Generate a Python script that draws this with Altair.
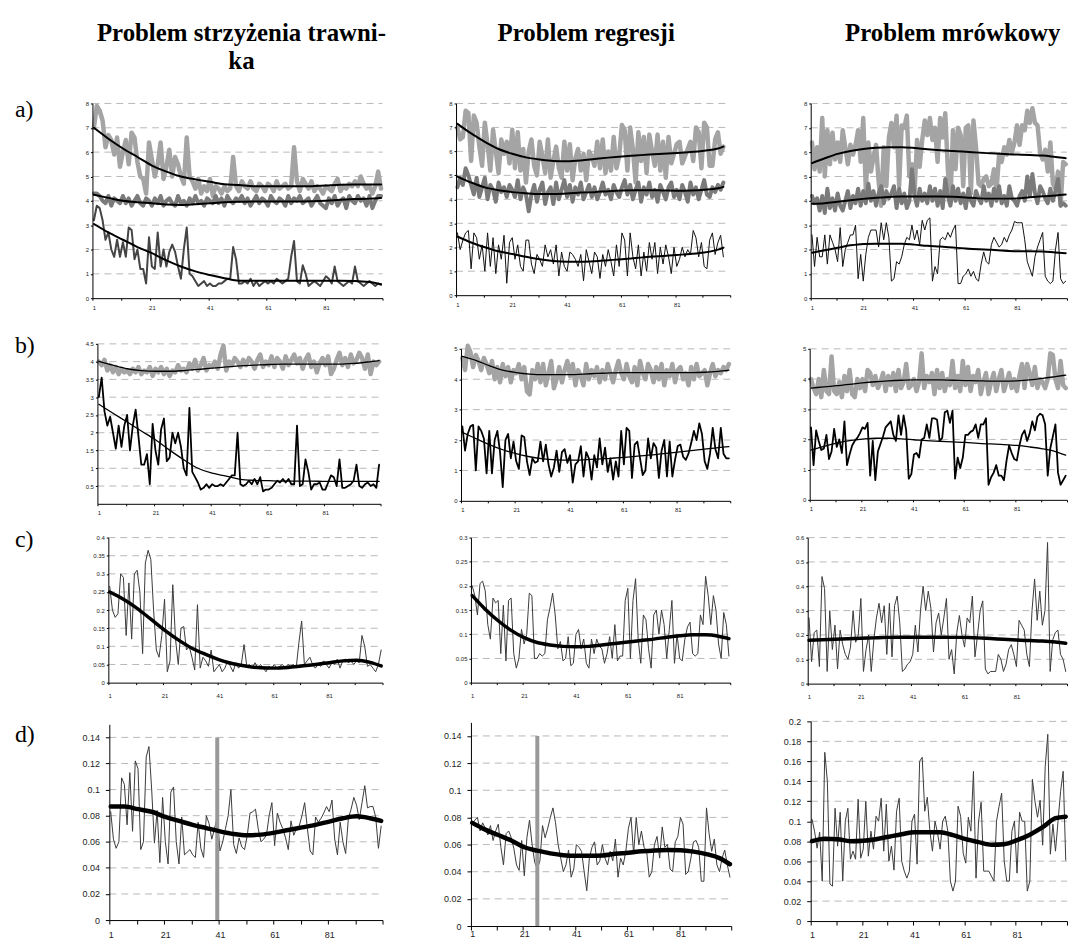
import altair as alt
import pandas as pd

W, H = 1067, 930

TITLES = ["Problem strzyżenia trawni-", "ka", "Problem regresji", "Problem mrówkowy"]
ROW_LABELS = ["a)", "b)", "c)", "d)"]

TX = [1, 6, 11, 16, 21, 26, 31, 36, 41, 46, 51, 56, 61, 66, 71, 76, 81, 86, 91, 96, 100]
TX98 = [1, 6, 11, 16, 21, 26, 31, 36, 41, 46, 51, 56, 61, 66, 71, 76, 81, 86, 91, 96, 98]
X_LABELS = [1, 21, 41, 61, 81]
X_TICKS = [0.5, 10.5, 20.5, 30.5, 40.5, 50.5, 60.5, 70.5, 80.5, 90.5, 100.5]

Y_A = [0, 1, 2, 3, 4, 5, 6, 7, 8]
Y_BL = [0.5, 1, 1.5, 2, 2.5, 3, 3.5, 4, 4.5]
Y_B = [0, 1, 2, 3, 4, 5]
Y_CL = [0, 0.05, 0.1, 0.15, 0.2, 0.25, 0.3, 0.35, 0.4]
Y_CM = [0, 0.05, 0.1, 0.15, 0.2, 0.25, 0.3]
Y_CR = [0, 0.1, 0.2, 0.3, 0.4, 0.5, 0.6]
Y_D = [0, 0.02, 0.04, 0.06, 0.08, 0.1, 0.12, 0.14]
Y_DR = [0, 0.02, 0.04, 0.06, 0.08, 0.1, 0.12, 0.14, 0.16, 0.18, 0.2]

CUT_DL = 40
CUT_DM = 26
CUT_TOP = 0.14

# ---------- row a ----------
AL_TOP = [7.0, 7.9, 7.7, 7.3, 6.2, 6.7, 6.5, 5.9, 6.6, 5.4,
          6.0, 6.5, 5.5, 6.8, 6.6, 5.6, 5.0, 4.9, 4.3, 6.4,
          5.7, 5.0, 5.5, 6.4, 4.9, 5.4, 6.1, 5.0, 5.8, 5.5,
          5.0, 4.7, 6.6, 5.0, 4.8, 4.5, 4.9, 4.3, 4.6, 4.4,
          4.9, 4.2, 4.6, 4.5, 4.3, 4.6, 4.4, 4.5, 5.8, 4.6,
          4.4, 4.8, 4.6, 4.5, 4.8, 4.5, 4.4, 4.7, 4.6, 4.4,
          4.7, 4.6, 4.4, 4.8, 4.5, 4.6, 4.7, 4.5, 4.6, 6.2,
          4.8, 4.4, 4.9, 4.7, 4.5, 4.8, 4.4, 4.6, 4.5, 4.3,
          4.6, 4.5, 4.4, 4.7, 4.9, 4.4, 4.6, 4.5, 4.7, 4.6,
          4.8, 4.6, 5.0, 4.7, 4.5, 4.6, 4.3, 4.6, 5.2, 4.5]
AL_MID = [4.3, 4.3, 4.2, 4.0, 3.9, 4.2, 3.8, 4.1, 4.0, 3.9,
          4.2, 3.9, 4.1, 3.8, 4.0, 4.2, 3.9, 3.8, 4.1, 4.0,
          3.8, 4.1, 3.9, 4.2, 3.8, 4.0, 4.1, 3.9, 3.8, 4.2,
          3.9, 4.0, 3.8, 4.1, 3.9, 4.2, 3.9, 4.0, 3.8, 4.1,
          4.0, 3.9, 4.2, 3.9, 4.1, 3.8, 4.2, 4.0, 3.9, 4.1,
          4.0, 4.2, 3.9, 4.1, 3.8, 4.0, 4.2, 3.9, 4.1, 4.0,
          3.8, 4.2, 4.0, 3.9, 4.1, 4.0, 3.8, 4.2, 3.9, 4.1,
          4.0, 4.2, 3.9, 4.0, 4.1, 3.8, 4.0, 4.2, 3.9, 3.8,
          3.7, 4.1, 3.9, 4.2, 3.8, 4.0, 4.1, 3.7, 4.2, 4.0,
          3.9, 4.2, 4.0, 4.1, 3.8, 4.2, 3.7, 4.0, 4.2, 4.2]
AL_BOT = [3.2, 3.8, 3.7, 3.2, 2.4, 2.7, 2.0, 1.7, 2.4, 1.7,
          2.3, 1.7, 2.9, 2.8, 1.6, 2.0, 1.2, 1.2, 0.6, 2.5,
          1.3, 1.2, 2.7, 1.3, 2.0, 1.3, 1.9, 2.2, 1.9, 1.3,
          0.8, 2.0, 2.9, 1.0, 0.9, 0.7, 0.5, 0.6, 0.7, 0.5,
          0.6, 0.5, 0.5, 0.6, 0.6, 0.7, 0.8, 0.8, 2.1, 1.6,
          0.6, 0.6, 0.7, 0.6, 0.8, 0.5, 0.7, 0.5, 0.6, 0.7,
          0.6, 0.7, 0.6, 0.8, 0.7, 0.6, 0.7, 0.8, 1.7, 2.35,
          0.7, 0.6, 1.35, 1.0, 0.5, 0.6, 0.7, 0.6, 0.5, 0.7,
          0.9, 0.8, 0.6, 1.3, 0.7, 0.6, 0.5, 0.6, 0.7, 0.6,
          1.3, 0.7, 0.6, 0.5, 0.6, 0.7, 0.6, 0.5, 0.6, 0.55]
AL_TOP_T = [7.0, 6.55, 6.15, 5.8, 5.45, 5.2, 5.0, 4.88, 4.78, 4.68, 4.65, 4.6, 4.6, 4.6, 4.6, 4.6, 4.63, 4.66, 4.67, 4.67, 4.67]
AL_MID_T = [4.25, 4.12, 4.0, 3.94, 3.9, 3.85, 3.83, 3.86, 3.9, 3.94, 3.96, 3.97, 3.97, 3.97, 3.97, 3.98, 4.0, 4.04, 4.07, 4.09, 4.12]
AL_BOT_T = [3.05, 2.7, 2.4, 2.1, 1.85, 1.55, 1.3, 1.1, 0.95, 0.82, 0.72, 0.72, 0.72, 0.72, 0.72, 0.72, 0.72, 0.72, 0.71, 0.66, 0.57]

AM_TOP = [7.0, 6.5, 6.6, 7.7, 7.6, 5.6, 7.5, 7.2, 6.2, 5.4,
          7.2, 6.3, 5.2, 6.9, 6.0, 5.1, 6.5, 5.9, 6.4, 5.5,
          6.9, 5.3, 6.8, 5.2, 6.1, 4.7, 6.0, 6.5, 5.4, 5.0,
          6.4, 5.8, 5.1, 6.5, 4.9, 5.6, 6.2, 5.3, 4.9, 6.4,
          5.2, 6.3, 4.8, 5.7, 6.1, 5.2, 5.9, 4.8, 6.0, 5.8,
          5.4, 6.4, 5.3, 6.5, 5.1, 6.0, 5.2, 6.6, 5.3, 5.8,
          7.1, 6.9, 5.2, 7.0, 6.1, 4.7, 6.8, 5.6, 6.6, 5.1,
          6.7, 6.0, 5.4, 6.7, 5.2, 6.4, 4.9, 6.6, 5.5, 5.9,
          6.3, 6.4, 5.5, 5.8, 6.1, 6.4, 5.6, 7.0, 6.8, 5.3,
          7.2, 7.0, 5.4, 5.4, 6.5, 6.8, 5.9, 6.2]
AM_MID = [4.5, 4.9, 4.6, 5.3, 5.0, 4.6, 4.2, 4.9, 4.1, 4.5,
          4.9, 4.0, 4.6, 4.4, 3.9, 4.7, 4.3, 4.5, 4.1, 4.6,
          4.4, 4.1, 4.8, 4.0, 4.5, 4.2, 3.5, 4.2, 4.6, 3.9,
          4.4, 4.7, 3.8, 4.3, 4.5, 3.8, 4.7, 4.0, 4.4, 4.8,
          4.1, 4.6, 3.9, 4.5, 4.2, 4.7, 4.0, 4.3, 4.6, 4.1,
          4.5, 4.0, 4.3, 4.7, 4.2, 4.4, 4.0, 4.6, 4.3, 4.1,
          4.5, 4.8, 4.2, 4.6, 4.0, 4.4, 4.7, 3.9, 4.5, 4.2,
          4.7, 4.1, 4.4, 3.9, 4.6, 4.3, 4.0, 4.5, 4.7, 4.1,
          4.4, 4.0, 4.6, 4.3, 3.9, 4.7, 4.2, 4.5, 4.0, 4.4,
          4.8, 4.2, 4.1, 4.5, 4.3, 4.6, 4.4, 4.7]
AM_BOT = [2.6, 1.9, 2.3, 2.6, 2.7, 1.1, 2.6, 2.4, 1.5, 2.1,
          1.0, 2.6, 1.2, 2.4, 0.9, 2.1, 1.5, 2.5, 0.5, 2.2,
          2.4, 1.5, 2.1, 1.2, 1.0, 2.3, 2.3, 1.3, 0.9, 1.7,
          1.5, 1.2, 2.1, 1.6, 1.9, 1.3, 2.1, 0.8, 1.8, 1.2,
          1.0, 1.8, 1.7, 1.5, 1.2, 1.7, 0.6, 1.9, 1.4, 0.9,
          1.8, 1.6, 0.7, 1.7, 1.2, 1.9, 1.4, 0.8, 2.1, 1.2,
          2.6, 2.3, 0.8, 2.6, 1.6, 1.1, 2.1, 0.8, 1.8, 1.0,
          2.2, 1.5, 2.2, 0.9, 2.0, 1.3, 2.1, 1.6, 0.9, 2.0,
          1.2, 1.5, 2.0, 1.6, 1.9, 1.7, 2.7, 2.4, 1.6, 2.2,
          1.2, 1.1, 2.3, 2.6, 1.7, 2.2, 2.5, 1.6]
AM_TOP_T = [7.15, 6.75, 6.4, 6.1, 5.9, 5.75, 5.66, 5.6, 5.59, 5.62, 5.68, 5.74, 5.79, 5.83, 5.87, 5.9, 5.93, 5.97, 6.03, 6.12, 6.2]
AM_MID_T = [4.95, 4.7, 4.5, 4.38, 4.3, 4.25, 4.22, 4.22, 4.24, 4.28, 4.3, 4.34, 4.37, 4.38, 4.38, 4.37, 4.36, 4.37, 4.4, 4.46, 4.52]
AM_BOT_T = [2.45, 2.2, 2.0, 1.83, 1.72, 1.6, 1.5, 1.43, 1.4, 1.4, 1.42, 1.46, 1.5, 1.55, 1.6, 1.64, 1.68, 1.72, 1.78, 1.9, 1.98]

AR_TOP = [6.4, 5.3, 6.2, 5.2, 7.4, 5.0, 6.9, 5.5, 6.8, 5.7,
          6.4, 5.6, 6.9, 6.2, 5.5, 6.3, 5.9, 6.3, 6.9, 5.6,
          7.4, 4.5, 6.4, 5.2, 5.8, 6.3, 4.8, 3.8, 6.2, 4.6,
          6.6, 7.2, 6.2, 7.5, 4.6, 7.1, 7.0, 7.5, 5.0, 5.5,
          4.3, 6.5, 5.4, 6.5, 7.3, 6.7, 7.4, 6.5, 7.0, 5.6,
          7.4, 6.6, 7.6, 5.3, 3.9, 6.9, 5.3, 7.0, 6.7, 4.6,
          7.0, 7.1, 4.3, 7.3, 6.2, 4.7, 4.6, 4.9, 5.0, 4.6,
          4.7, 5.3, 4.4, 5.9, 5.6, 6.2, 5.9, 6.5, 6.0, 6.4,
          7.1, 6.3, 7.1, 6.9, 7.7, 7.2, 7.8, 7.2, 7.1, 6.0,
          5.7, 6.1, 5.2, 6.4, 4.7, 4.5, 5.2, 3.8, 5.6, 5.5]
AR_MID = [4.2, 3.9, 4.1, 3.6, 4.2, 3.5, 4.5, 3.7, 4.1, 3.6,
          4.3, 3.8, 3.6, 4.0, 4.4, 3.7, 4.2, 3.9, 4.5, 3.8,
          4.4, 3.9, 4.7, 4.0, 4.4, 3.8, 4.3, 4.6, 3.9, 4.4,
          4.1, 4.3, 4.6, 3.7, 4.5, 3.9, 4.3, 3.7, 4.0, 5.3,
          4.2, 3.8, 4.5, 4.0, 4.3, 3.9, 4.6, 4.0, 4.5, 3.8,
          4.4, 3.7, 4.9, 4.2, 3.8, 4.6, 4.0, 4.5, 3.9, 4.3,
          3.7, 4.5, 4.0, 3.8, 4.4, 4.1, 3.9, 4.6, 4.0, 4.3,
          3.8, 4.5, 4.0, 4.6, 3.9, 4.2, 3.8, 4.6, 4.1, 4.0,
          3.8, 4.2, 4.4, 4.0, 5.0, 4.2, 5.1, 4.3, 3.9, 4.6,
          4.4, 4.1, 3.9, 4.5, 4.0, 4.4, 4.9, 3.8, 3.9, 3.8]
AR_BOT = [2.6, 1.3, 2.5, 1.7, 1.7, 2.6, 1.4, 2.6, 2.3, 2.0,
          1.5, 2.9, 1.3, 2.0, 2.3, 2.6, 2.6, 3.0, 0.8, 1.8,
          0.7, 1.8, 2.5, 2.8, 2.8, 2.8, 2.1, 3.1, 2.4, 3.1,
          2.5, 0.7, 0.8, 1.5, 1.4, 1.7, 2.2, 2.5, 2.4, 3.0,
          2.4, 2.8, 2.2, 3.2, 2.8, 3.2, 3.3, 0.7, 1.3, 1.0,
          2.4, 2.5, 2.4, 2.7, 2.5, 2.8, 3.0, 0.6, 0.6, 0.9,
          1.0, 1.2, 0.9, 1.1, 0.8, 0.7, 1.4, 1.9, 1.5, 1.4,
          2.2, 2.5, 2.3, 2.1, 2.2, 2.5, 2.3, 2.6, 2.8, 3.15,
          3.1, 3.1, 3.1, 2.4, 1.5, 1.2, 0.9, 1.7, 2.1, 2.4,
          2.7, 0.9, 0.7, 0.6, 0.7, 2.0, 2.7, 0.8, 0.6, 0.7]
AR_TOP_T = [5.55, 5.75, 5.93, 6.05, 6.13, 6.18, 6.2, 6.2, 6.17, 6.12, 6.08, 6.05, 6.02, 5.98, 5.95, 5.92, 5.9, 5.88, 5.86, 5.8, 5.75]
AR_MID_T = [3.88, 3.9, 3.96, 4.02, 4.08, 4.13, 4.16, 4.18, 4.18, 4.18, 4.18, 4.17, 4.14, 4.1, 4.09, 4.09, 4.1, 4.15, 4.19, 4.22, 4.26]
AR_BOT_T = [1.87, 1.97, 2.07, 2.17, 2.23, 2.24, 2.24, 2.24, 2.2, 2.15, 2.12, 2.08, 2.04, 2.01, 1.99, 1.95, 1.93, 1.93, 1.92, 1.88, 1.85]

# ---------- row b ----------
BL_TOP = [4.0, 3.9, 4.05, 3.75, 3.9, 3.7, 3.85, 3.65, 3.8, 3.7,
          3.75, 3.65, 3.8, 3.7, 3.85, 3.65, 3.75, 3.7, 3.85, 3.6,
          3.8, 3.7, 3.85, 3.65, 3.8, 3.6, 3.75, 3.7, 3.9, 3.75,
          3.8, 3.7, 3.95, 3.8, 4.05, 3.75, 3.9, 4.1, 3.75, 3.9,
          3.85, 4.0, 3.8, 4.2, 4.45, 3.75, 4.0, 3.9, 4.1, 4.0,
          3.85, 4.05, 3.9, 4.1, 4.0, 3.8, 4.05, 4.2, 3.85, 4.0,
          3.9, 4.15, 3.85, 4.1, 4.0, 3.8, 4.15, 3.9, 4.05, 4.2,
          3.95, 4.1, 3.8, 4.05, 4.2, 3.85, 4.0, 3.7, 3.95, 4.1,
          3.9, 4.15, 3.65, 3.8, 4.05, 4.25, 3.9, 4.1, 3.85, 4.2,
          3.95, 4.05, 4.25, 4.1, 3.8, 4.2, 3.65, 4.0, 3.9, 4.0]
BL_BOT = [3.0, 3.55, 2.6, 2.2, 2.45, 2.0, 1.55, 2.2, 1.6, 2.2,
          2.5, 1.5, 2.2, 2.65, 1.9, 1.1, 1.1, 1.4, 0.55, 2.25,
          1.5, 1.1, 2.1, 2.4, 1.2, 1.3, 2.0, 1.7, 2.0, 1.6,
          1.0, 0.8, 2.7, 0.9, 0.75, 0.6, 0.4, 0.45, 0.55, 0.45,
          0.55, 0.5, 0.5, 0.55, 0.5, 0.6, 0.7, 0.8, 0.8, 2.0,
          0.55, 0.5, 0.55, 0.65, 0.55, 0.7, 0.55, 0.75, 0.35, 0.4,
          0.4, 0.45, 0.55, 0.65, 0.6, 0.7, 0.6, 0.7, 0.55, 0.55,
          2.2, 0.5, 0.55, 1.25, 0.9, 0.4, 0.55, 0.55, 0.6, 0.4,
          0.4, 0.6, 0.8, 0.75, 0.5, 1.25, 0.45, 0.45, 0.5, 0.55,
          0.65, 1.1, 0.5, 0.45, 0.55, 0.6, 0.5, 0.55, 0.45, 1.1]
BL_TOP_T = [4.01, 3.9, 3.8, 3.75, 3.73, 3.73, 3.75, 3.78, 3.82, 3.85, 3.88, 3.9, 3.92, 3.93, 3.93, 3.93, 3.93, 3.93, 3.95, 3.99, 4.03]
BL_BOT_T = [2.8, 2.55, 2.3, 2.05, 1.8, 1.51, 1.24, 1.0, 0.86, 0.78, 0.69, 0.66, 0.65, 0.64, 0.64, 0.64, 0.63, 0.63, 0.63, 0.63, 0.63]

BM_TOP = [4.7, 4.3, 5.1, 4.9, 4.4, 4.8, 4.6, 4.3, 4.7, 4.5,
          4.2, 4.6, 4.0, 4.4, 3.9, 4.5, 4.1, 4.4, 3.9, 4.3,
          4.2, 4.5, 4.0, 4.4, 3.6, 3.5, 4.3, 4.0, 4.5, 3.9,
          4.5, 3.8, 4.2, 4.6, 3.7, 4.0, 4.4, 3.9, 4.3, 4.6,
          4.1, 4.5, 3.8, 4.3, 4.1, 3.8, 4.5, 4.0, 4.3, 4.1,
          4.4, 3.9, 4.3, 4.0, 4.5, 4.2, 3.9, 4.3, 4.6, 4.2,
          4.0, 4.5, 4.1, 3.9, 4.4, 3.8, 4.6, 4.2, 4.0, 4.5,
          4.3, 3.9, 4.4, 4.0, 4.5, 3.8, 4.3, 4.1, 4.5, 3.9,
          4.3, 4.4, 4.0, 4.2, 3.8, 4.4, 4.0, 4.5, 4.1, 4.2,
          4.3, 3.8, 4.2, 4.5, 4.1, 4.3, 4.2, 4.4, 4.3, 4.5]
BM_BOT = [2.45, 1.65, 2.2, 2.45, 2.5, 1.0, 2.45, 2.3, 2.05, 0.9,
          2.3, 0.9, 2.0, 2.3, 1.6, 0.45, 2.0, 2.2, 1.4, 1.95,
          1.3, 1.05, 2.15, 2.1, 1.3, 0.85, 1.4, 1.25, 1.3, 1.95,
          1.3, 1.85, 1.2, 0.8, 1.1, 1.65, 0.95, 1.6, 1.7, 1.25,
          1.5, 0.6, 1.2, 1.3, 1.8, 0.8, 1.6, 1.4, 0.7, 1.5,
          1.1, 2.05, 1.2, 1.75, 0.95, 1.4, 0.7, 1.3, 0.8, 2.3,
          1.2, 2.4, 2.3, 0.75, 1.85, 1.95, 1.4, 0.85, 1.0, 2.05,
          1.4, 1.9, 1.75, 0.75, 1.65, 2.0, 0.8, 1.95, 0.8, 1.35,
          1.8, 1.85, 1.45, 1.35, 1.55, 1.9, 2.3, 2.0, 2.55, 2.2,
          1.3, 1.05, 1.55, 2.4, 1.7, 1.4, 2.4, 1.55, 1.4, 1.4]
BM_TOP_T = [4.75, 4.62, 4.45, 4.3, 4.22, 4.17, 4.15, 4.15, 4.15, 4.17, 4.19, 4.21, 4.22, 4.22, 4.22, 4.22, 4.22, 4.22, 4.23, 4.26, 4.3]
BM_BOT_T = [2.25, 2.05, 1.85, 1.68, 1.55, 1.45, 1.38, 1.35, 1.34, 1.35, 1.37, 1.4, 1.43, 1.47, 1.51, 1.55, 1.6, 1.65, 1.7, 1.75, 1.78]

BR_TOP = [4.0, 3.7, 3.5, 4.0, 3.4, 4.3, 3.6, 3.5, 4.75, 3.6,
          3.5, 3.9, 3.4, 4.1, 3.6, 4.3, 3.5, 3.4, 4.0, 3.7,
          4.0, 3.6, 4.3, 4.2, 3.8, 4.1, 3.7, 3.9, 4.2, 3.6,
          4.1, 3.8, 4.2, 3.6, 4.3, 3.7, 3.9, 4.5, 3.7, 3.8,
          4.0, 3.6, 3.9, 4.85, 3.7, 4.1, 3.9, 4.2, 3.5, 4.3,
          3.7, 4.2, 3.6, 4.0, 3.8, 4.6, 3.7, 4.1, 3.6, 4.6,
          3.8, 4.4, 3.6, 4.1, 3.9, 4.3, 3.5, 3.9, 4.2, 3.5,
          3.9, 4.2, 3.6, 4.0, 4.3, 3.6, 3.9, 4.2, 3.7, 4.0,
          3.6, 4.1, 4.5, 3.7, 4.5, 4.2, 3.8, 4.4, 3.7, 4.0,
          3.9, 3.7, 4.0, 4.85, 4.8, 4.0, 3.7, 4.6, 3.8, 3.7]
BR_BOT = [2.4, 1.15, 2.3, 1.95, 1.65, 1.7, 2.15, 1.35, 1.6, 2.35,
          1.75, 2.0, 1.55, 2.6, 1.15, 1.5, 1.8, 1.95, 2.05, 2.2,
          2.4, 2.35, 2.55, 0.8, 1.95, 0.65, 1.6, 1.85, 2.1, 2.4,
          2.5, 2.6, 2.15, 1.95, 2.8, 2.15, 2.8, 2.3, 0.7, 0.85,
          1.5, 1.55, 1.4, 2.0, 2.05, 2.5, 2.05, 2.7, 2.7, 2.65,
          1.95, 2.05, 2.9, 2.95, 2.55, 2.95, 0.7, 1.4, 1.05, 1.4,
          2.15, 2.15, 2.25, 2.3, 2.5, 2.05, 2.5, 2.5, 2.7, 0.5,
          0.75, 0.9, 1.15, 0.8, 0.8, 0.65, 1.3, 1.8, 1.55, 1.35,
          1.3, 1.8, 2.15, 2.3, 1.95, 2.2, 2.6, 2.3, 2.75, 2.85,
          2.8, 2.5, 0.8, 1.7, 2.1, 2.5, 0.9, 0.5, 0.65, 0.8]
BR_TOP_T = [3.7, 3.74, 3.78, 3.82, 3.87, 3.91, 3.94, 3.96, 3.97, 3.97, 3.97, 3.96, 3.95, 3.94, 3.93, 3.93, 3.94, 3.97, 4.02, 4.08, 4.13]
BR_BOT_T = [1.65, 1.77, 1.88, 1.96, 2.01, 2.04, 2.04, 2.02, 1.99, 1.96, 1.94, 1.92, 1.9, 1.87, 1.85, 1.83, 1.8, 1.75, 1.69, 1.6, 1.48]

# ---------- row c ----------
CL = [0.265, 0.2, 0.18, 0.19, 0.3, 0.29, 0.13, 0.275, 0.12, 0.3,
      0.31, 0.25, 0.08, 0.33, 0.365, 0.34, 0.2, 0.09, 0.07, 0.13,
      0.23, 0.03, 0.06, 0.27, 0.12, 0.05, 0.15, 0.155, 0.09, 0.1,
      0.07, 0.035, 0.215, 0.04, 0.07, 0.06, 0.045, 0.09, 0.03, 0.04,
      0.05, 0.03, 0.04, 0.06, 0.045, 0.03, 0.055, 0.04, 0.05, 0.105,
      0.045, 0.05, 0.04, 0.055, 0.04, 0.05, 0.04, 0.03, 0.045, 0.04,
      0.05, 0.04, 0.045, 0.05, 0.04, 0.05, 0.045, 0.05, 0.04, 0.11,
      0.17, 0.05, 0.06, 0.07, 0.05, 0.04, 0.05, 0.045, 0.06, 0.05,
      0.04, 0.055, 0.05, 0.065, 0.04, 0.06, 0.065, 0.055, 0.06, 0.05,
      0.06, 0.055, 0.13, 0.1, 0.045, 0.05, 0.04, 0.03, 0.05, 0.09]
CL_T = [0.25, 0.23, 0.205, 0.175, 0.145, 0.118, 0.095, 0.078, 0.063, 0.052, 0.045, 0.041, 0.04, 0.042, 0.046, 0.05, 0.055, 0.06, 0.062, 0.056, 0.046]

CM = [0.2, 0.18, 0.14, 0.205, 0.21, 0.19, 0.12, 0.09, 0.175, 0.165,
      0.17, 0.06, 0.16, 0.045, 0.17, 0.175, 0.06, 0.03, 0.05, 0.11,
      0.08, 0.1, 0.185, 0.18, 0.05, 0.05, 0.06, 0.055, 0.06, 0.13,
      0.155, 0.185, 0.14, 0.07, 0.085, 0.045, 0.05, 0.095, 0.035, 0.04,
      0.1, 0.11, 0.07, 0.09, 0.04, 0.03, 0.09, 0.06, 0.09, 0.075,
      0.07, 0.04, 0.06, 0.095, 0.05, 0.12, 0.045, 0.055, 0.055, 0.17,
      0.195, 0.05, 0.17, 0.215, 0.09, 0.04, 0.14, 0.13, 0.07, 0.03,
      0.14, 0.15, 0.1, 0.15, 0.12, 0.05, 0.11, 0.17, 0.04, 0.1,
      0.05, 0.045, 0.09, 0.115, 0.125, 0.06, 0.055, 0.06, 0.14, 0.12,
      0.22, 0.18, 0.12, 0.18, 0.15, 0.08, 0.05, 0.145, 0.12, 0.055]
CM_T = [0.18, 0.152, 0.128, 0.108, 0.093, 0.083, 0.078, 0.075, 0.074, 0.075, 0.078, 0.081, 0.084, 0.087, 0.09, 0.094, 0.097, 0.099, 0.099, 0.096, 0.091]

CR = [0.27, 0.09, 0.21, 0.22, 0.07, 0.44, 0.39, 0.05, 0.3, 0.14,
      0.24, 0.06, 0.22, 0.16, 0.12, 0.1, 0.15, 0.3, 0.17, 0.2,
      0.35, 0.05, 0.14, 0.2, 0.05, 0.18, 0.27, 0.33, 0.25, 0.32,
      0.12, 0.33, 0.11, 0.32, 0.36, 0.25, 0.05, 0.06, 0.08, 0.09,
      0.12, 0.24, 0.13, 0.3, 0.4, 0.3, 0.38, 0.31, 0.13, 0.25,
      0.29, 0.2, 0.27, 0.35, 0.1, 0.14, 0.04, 0.21, 0.28, 0.2,
      0.15, 0.27, 0.25, 0.36, 0.11, 0.2, 0.3, 0.34, 0.06, 0.04,
      0.05, 0.05, 0.05, 0.12, 0.1, 0.05, 0.08, 0.14, 0.16, 0.12,
      0.07, 0.26, 0.24, 0.22, 0.12, 0.07, 0.3, 0.43, 0.26, 0.38,
      0.24, 0.3, 0.58, 0.05, 0.18, 0.21, 0.22, 0.12, 0.1, 0.05]
CR_T = [0.178, 0.18, 0.182, 0.184, 0.186, 0.188, 0.19, 0.191, 0.191, 0.191, 0.191, 0.19, 0.19, 0.188, 0.185, 0.182, 0.179, 0.177, 0.175, 0.171, 0.166]

# ---------- row d ----------
DL = [0.083, 0.062, 0.055, 0.06, 0.109, 0.104, 0.073, 0.113, 0.068, 0.122,
      0.116, 0.054, 0.06, 0.125, 0.133, 0.1, 0.059, 0.084, 0.044, 0.094,
      0.06, 0.043, 0.098, 0.102, 0.06, 0.043, 0.079, 0.05, 0.052, 0.054,
      0.05, 0.048, 0.075, 0.055, 0.048, 0.08, 0.074, 0.062, 0.07, 0.079,
      0.053, 0.06, 0.07, 0.08, 0.1, 0.058, 0.051, 0.063, 0.056, 0.054,
      0.065, 0.082, 0.083, 0.085, 0.07, 0.06, 0.062, 0.065, 0.08, 0.09,
      0.057, 0.082, 0.075, 0.07, 0.063, 0.054, 0.076, 0.065, 0.07, 0.072,
      0.08, 0.09, 0.07, 0.053, 0.05, 0.079, 0.075, 0.078, 0.082, 0.087,
      0.083, 0.092, 0.062, 0.05, 0.075, 0.06, 0.051, 0.078, 0.085, 0.094,
      0.088, 0.077, 0.09, 0.103, 0.086, 0.087, 0.087, 0.079, 0.055, 0.072]
DL_T = [0.087, 0.087, 0.085, 0.083, 0.079, 0.076, 0.073, 0.0705, 0.068, 0.066, 0.065, 0.0655, 0.067, 0.069, 0.071, 0.073, 0.0755, 0.078, 0.0795, 0.078, 0.076]

DM = [0.075, 0.078, 0.08, 0.07, 0.076, 0.072, 0.067, 0.074, 0.063, 0.07,
      0.075, 0.058, 0.045, 0.068, 0.07, 0.065, 0.057, 0.045, 0.041, 0.063,
      0.037, 0.065, 0.078, 0.06, 0.047, 0.042, 0.048, 0.074, 0.065, 0.072,
      0.08, 0.087, 0.076, 0.06, 0.05, 0.04, 0.045, 0.056, 0.036, 0.042,
      0.06, 0.058, 0.055, 0.04, 0.026, 0.05, 0.058, 0.062, 0.045, 0.048,
      0.06, 0.05, 0.045, 0.055, 0.048, 0.064, 0.036, 0.05, 0.045, 0.055,
      0.072, 0.08, 0.053, 0.08, 0.06, 0.07, 0.058, 0.055, 0.036, 0.04,
      0.06, 0.066, 0.05, 0.073, 0.058, 0.06, 0.042, 0.04, 0.062, 0.066,
      0.08, 0.075, 0.038, 0.04, 0.05, 0.062, 0.063, 0.058, 0.033, 0.033,
      0.087, 0.068, 0.055, 0.064, 0.045, 0.04, 0.05, 0.056, 0.045, 0.036]
DM_T = [0.076, 0.071, 0.067, 0.063, 0.058, 0.0555, 0.0535, 0.0522, 0.0518, 0.0518, 0.052, 0.0532, 0.054, 0.055, 0.0557, 0.056, 0.0558, 0.0548, 0.053, 0.05, 0.0455]

DR = [0.102, 0.09, 0.073, 0.089, 0.04, 0.169, 0.14, 0.037, 0.035, 0.113,
      0.075, 0.109, 0.04, 0.1, 0.113, 0.062, 0.07, 0.062, 0.122, 0.063,
      0.072, 0.12, 0.065, 0.09, 0.072, 0.105, 0.1, 0.123, 0.07, 0.117,
      0.06, 0.075, 0.051, 0.11, 0.123, 0.06, 0.05, 0.043, 0.05, 0.1,
      0.107, 0.057, 0.16, 0.164, 0.11, 0.124, 0.09, 0.07, 0.1, 0.088,
      0.072, 0.1, 0.105, 0.09, 0.04, 0.03, 0.04, 0.115, 0.105, 0.068,
      0.058, 0.104, 0.09, 0.15, 0.043, 0.1, 0.119, 0.05, 0.05, 0.05,
      0.045, 0.04, 0.1, 0.115, 0.128, 0.06, 0.04, 0.04, 0.09, 0.1,
      0.048, 0.109, 0.1, 0.1, 0.03, 0.04, 0.142, 0.12, 0.104, 0.121,
      0.076, 0.155, 0.187, 0.067, 0.097, 0.07, 0.1, 0.13, 0.15, 0.061]
DR_T = [0.08, 0.0825, 0.082, 0.08, 0.0805, 0.082, 0.0845, 0.087, 0.089, 0.089, 0.089, 0.086, 0.082, 0.079, 0.0765, 0.077, 0.081, 0.0865, 0.094, 0.103, 0.1045]

# ---------- styling / layout (pixels of each plot area: left, right, top, bottom) ----------
LIGHT = "#a4a4a4"
MID = "#7b7b7b"
DARK = "#3a3a3a"
GRID = "#b8b8b8"
LABEL_FONT = "Liberation Sans"

PANELS = [
    dict(box=(85, 377, 93, 289), dom=[0, 8], ticks=Y_A, tx=TX,
         series=[(AL_TOP, LIGHT, 4.5), (AL_MID, MID, 4.0), (AL_BOT, "#444444", 2.0)],
         trends=[(AL_TOP_T, 2.0), (AL_MID_T, 2.0), (AL_BOT_T, 2.0)], fs=6, yt=2, yp=2, xp=6),
    dict(box=(451, 727, 93, 286), dom=[0, 8], ticks=Y_A, tx=TX98,
         series=[(AM_TOP, LIGHT, 4.5), (AM_MID, MID, 4.0), (AM_BOT, "#111111", 1.0)],
         trends=[(AM_TOP_T, 2.0), (AM_MID_T, 2.0), (AM_BOT_T, 2.0)], fs=6, yt=2, yp=2, xp=6),
    dict(box=(808, 1066, 93, 289), dom=[0, 8], ticks=Y_A, tx=TX,
         series=[(AR_TOP, LIGHT, 4.5), (AR_MID, MID, 4.0), (AR_BOT, "#111111", 1.0)],
         trends=[(AR_TOP_T, 2.0), (AR_MID_T, 2.0), (AR_BOT_T, 2.0)], fs=6, yt=2, yp=2, xp=6),
    dict(box=(90, 375, 335, 496), dom=[0, 4.5], ticks=Y_BL, tx=TX,
         series=[(BL_TOP, LIGHT, 4.5), (BL_BOT, "#000000", 1.8)],
         trends=[(BL_TOP_T, 1.3), (BL_BOT_T, 1.3)], fs=6, yt=2, yp=2, xp=6),
    dict(box=(456, 727, 340, 493), dom=[0, 5], ticks=Y_B, tx=TX,
         series=[(BM_TOP, LIGHT, 4.5), (BM_BOT, "#000000", 1.8)],
         trends=[(BM_TOP_T, 1.3), (BM_BOT_T, 1.3)], fs=6, yt=2, yp=2, xp=6),
    dict(box=(807, 1066, 340, 492), dom=[0, 5], ticks=Y_B, tx=TX,
         series=[(BR_TOP, LIGHT, 4.5), (BR_BOT, "#000000", 1.8)],
         trends=[(BR_TOP_T, 1.3), (BR_BOT_T, 1.3)], fs=6, yt=2, yp=2, xp=6),
    dict(box=(101, 377, 530, 676), dom=[0, 0.4], ticks=Y_CL, tx=TX,
         series=[(CL, DARK, 1.0)], trends=[(CL_T, 3.5)], fs=6, yt=2, yp=2, xp=10),
    dict(box=(466, 727, 530, 676), dom=[0, 0.3], ticks=Y_CM, tx=TX,
         series=[(CM, DARK, 1.0)], trends=[(CM_T, 3.5)], fs=6, yt=2, yp=2, xp=10),
    dict(box=(805, 1066, 530, 677), dom=[0, 0.6], ticks=Y_CR, tx=TX,
         series=[(CR, DARK, 1.0)], trends=[(CR_T, 3.5)], fs=6, yt=2, yp=2, xp=10),
    dict(box=(102, 377, 718, 915), dom=[0, 0.15], ticks=Y_D, tx=TX,
         series=[(DL, DARK, 1.0)], trends=[(DL_T, 4.5)], fs=9, yt=4, yp=6, xp=11, cut=CUT_DL),
    dict(box=(466, 728, 716, 921), dom=[0, 0.15], ticks=Y_D, tx=TX,
         series=[(DM, DARK, 1.0)], trends=[(DM_T, 4.5)], fs=9, yt=4, yp=6, xp=4, cut=CUT_DM),
    dict(box=(808, 1066, 715, 916), dom=[0, 0.2], ticks=Y_DR, tx=TX,
         series=[(DR, DARK, 1.0)], trends=[(DR_T, 4.5)], fs=9, yt=4, yp=6, xp=10),
]


def panel_layers(p):
    x0, x1, yt, yb = p["box"]
    xs = alt.Scale(domain=[0.5, 100.5], range=[x0, x1], nice=False, zero=False)
    ys = alt.Scale(domain=p["dom"], range=[yb, yt], nice=False, zero=False)
    y_axis = alt.Axis(orient="left", offset=-x0, values=p["ticks"], format="~g", title=None,
                      grid=False, domainColor="#000000", domainWidth=1, tickColor="#000000",
                      tickSize=p["yt"], tickWidth=1, labelFontSize=p["fs"], labelFont=LABEL_FONT,
                      labelColor="#222222", labelPadding=p["yp"], labelFlush=False,
                      labelOverlap=False, zindex=1)
    x_tick_axis = alt.Axis(orient="bottom", offset=yb - H, values=X_TICKS, labels=False,
                           title=None, grid=False, domainColor="#000000", domainWidth=1,
                           tickColor="#000000", tickSize=p["yt"], tickWidth=1, zindex=1)
    x_label_axis = alt.Axis(orient="bottom", offset=yb - H, values=X_LABELS, ticks=False,
                            tickSize=0, domain=False, title=None, grid=False,
                            labelFontSize=p["fs"], labelFont=LABEL_FONT, labelColor="#222222",
                            labelPadding=p["xp"], labelFlush=False, labelOverlap=False)
    grid_vals = [v for v in p["ticks"] if v != p["dom"][0]]
    gdf = pd.DataFrame({"v": grid_vals, "xs": [0.5] * len(grid_vals), "xe": [100.5] * len(grid_vals)})
    layers = [
        alt.Chart(gdf).mark_rule(color=GRID, strokeDash=[7, 5], strokeWidth=1).encode(
            x=alt.X("xs:Q", scale=xs, axis=x_tick_axis),
            x2="xe:Q",
            y=alt.Y("v:Q", scale=ys, axis=y_axis),
        )
    ]
    for i, (vals, color, width) in enumerate(p["series"]):
        df = pd.DataFrame({"x": list(range(1, len(vals) + 1)), "y": vals})
        layers.append(
            alt.Chart(df).mark_line(color=color, strokeWidth=width, strokeJoin="round", strokeCap="round").encode(
                x=alt.X("x:Q", scale=xs, axis=x_label_axis if i == 0 else None),
                y=alt.Y("y:Q", scale=ys, axis=None),
            )
        )
    if p.get("cut"):
        cdf = pd.DataFrame({"x": [p["cut"]], "y0": [0], "y1": [CUT_TOP]})
        layers.append(
            alt.Chart(cdf).mark_rule(color="#999999", strokeWidth=4).encode(
                x=alt.X("x:Q", scale=xs, axis=None),
                y=alt.Y("y0:Q", scale=ys, axis=None),
                y2="y1:Q",
            )
        )
    for vals, width in p["trends"]:
        df = pd.DataFrame({"x": p["tx"], "y": vals})
        layers.append(
            alt.Chart(df).mark_line(color="#000000", strokeWidth=width, interpolate="monotone",
                                    strokeJoin="round", strokeCap="round").encode(
                x=alt.X("x:Q", scale=xs, axis=None),
                y=alt.Y("y:Q", scale=ys, axis=None),
            )
        )
    return layers


def text_layer(txt, x, y, size, weight, align):
    return alt.Chart(pd.DataFrame({"t": [txt]})).mark_text(
        font="Liberation Serif", fontSize=size, fontWeight=weight, align=align,
        baseline="middle", color="#000000").encode(text="t:N", x=alt.value(x), y=alt.value(y))


all_layers = []
for p in PANELS:
    all_layers.extend(panel_layers(p))

all_layers.append(text_layer(TITLES[0], 235, 22, 25, "bold", "center"))
all_layers.append(text_layer(TITLES[1], 235, 50, 25, "bold", "center"))
all_layers.append(text_layer(TITLES[2], 582, 22, 25, "bold", "center"))
all_layers.append(text_layer(TITLES[3], 951, 22, 25, "bold", "center"))
for lab, yy in zip(ROW_LABELS, [100, 337, 532, 729]):
    all_layers.append(text_layer(lab, 7, yy, 24, "normal", "left"))

chart = (
    alt.layer(*all_layers)
    .resolve_scale(x="independent", y="independent")
    .properties(width=W, height=H, padding=0, background="white")
    .configure_view(stroke=None)
)

chart.save("out.html", embed_options={"renderer": "svg", "actions": False})
